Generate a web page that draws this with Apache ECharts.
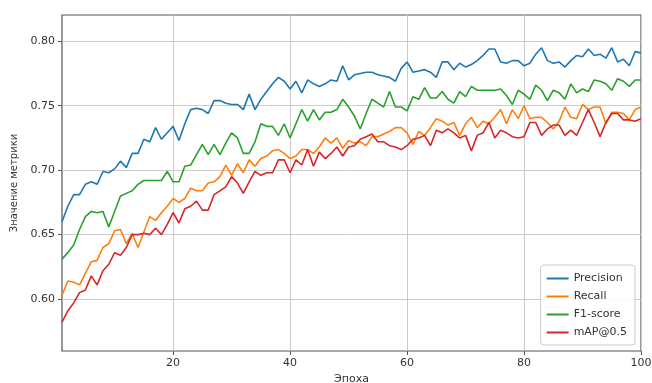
<!DOCTYPE html>
<html>
<head>
<meta charset="utf-8">
<script src="https://cdn.jsdelivr.net/npm/echarts@6/dist/echarts.min.js"></script>
<style>html,body{margin:0;padding:0;background:#fff}#c{width:652px;height:383px}</style>
</head>
<body>
<div id="c"></div>
<script>
const epochs = Array.from({length: 100}, (_, i) => i + 1);
const xTicks = [20, 40, 60, 80, 100];
const yTicks = [0.60, 0.65, 0.70, 0.75, 0.80];
const seriesNames = ['Precision', 'Recall', 'F1-score', 'mAP@0.5'];

const precision = [
0.660,0.672,0.681,0.681,0.689,0.691,0.689,0.699,0.698,0.701,
0.707,0.702,0.713,0.713,0.724,0.722,0.733,0.724,0.729,0.734,
0.723,0.736,0.747,0.748,0.747,0.744,0.754,0.754,0.752,0.751,
0.751,0.747,0.759,0.747,0.755,0.761,0.767,0.772,0.769,0.763,
0.769,0.760,0.770,0.767,0.765,0.767,0.770,0.769,0.781,0.770,
0.774,0.775,0.776,0.776,0.774,0.773,0.772,0.769,0.779,0.784,
0.776,0.777,0.778,0.776,0.772,0.784,0.784,0.778,0.783,0.780,
0.782,0.785,0.789,0.794,0.794,0.784,0.783,0.785,0.785,0.781,
0.783,0.790,0.795,0.785,0.783,0.784,0.780,0.785,0.789,0.788,
0.794,0.789,0.790,0.787,0.795,0.784,0.786,0.781,0.792,0.791];

const recall = [
0.603,0.614,0.613,0.611,0.620,0.629,0.630,0.640,0.643,0.653,
0.654,0.643,0.651,0.640,0.652,0.664,0.661,0.667,0.672,0.678,
0.675,0.678,0.686,0.684,0.684,0.690,0.691,0.695,0.704,0.696,
0.705,0.698,0.708,0.703,0.709,0.711,0.715,0.716,0.713,0.709,
0.711,0.716,0.716,0.713,0.718,0.725,0.721,0.725,0.717,0.723,
0.721,0.722,0.719,0.726,0.726,0.728,0.730,0.733,0.733,0.729,
0.720,0.730,0.727,0.733,0.740,0.738,0.735,0.737,0.727,0.736,
0.741,0.733,0.738,0.736,0.741,0.747,0.736,0.747,0.740,0.750,
0.740,0.741,0.741,0.737,0.732,0.738,0.749,0.741,0.740,0.751,
0.747,0.749,0.749,0.736,0.745,0.745,0.744,0.739,0.747,0.749];

const f1score = [
0.631,0.636,0.642,0.654,0.664,0.668,0.667,0.668,0.656,0.668,
0.680,0.682,0.684,0.689,0.692,0.692,0.692,0.692,0.699,0.691,
0.691,0.703,0.704,0.712,0.720,0.712,0.720,0.712,0.721,0.729,
0.725,0.713,0.713,0.722,0.736,0.734,0.734,0.727,0.736,0.725,
0.736,0.747,0.738,0.747,0.739,0.745,0.745,0.747,0.755,0.749,
0.742,0.732,0.744,0.755,0.752,0.749,0.761,0.749,0.749,0.746,
0.757,0.755,0.764,0.756,0.756,0.761,0.755,0.752,0.761,0.757,
0.765,0.762,0.762,0.762,0.762,0.763,0.758,0.751,0.762,0.759,
0.755,0.766,0.762,0.754,0.762,0.760,0.755,0.767,0.760,0.763,
0.761,0.770,0.769,0.767,0.762,0.771,0.769,0.765,0.770,0.770];

const map50 = [
0.582,0.591,0.597,0.605,0.607,0.618,0.611,0.622,0.627,0.636,
0.634,0.640,0.650,0.650,0.651,0.650,0.655,0.650,0.658,0.667,
0.659,0.670,0.672,0.676,0.669,0.669,0.681,0.684,0.687,0.695,
0.690,0.682,0.691,0.699,0.696,0.698,0.698,0.708,0.708,0.698,
0.708,0.704,0.716,0.703,0.714,0.709,0.713,0.718,0.711,0.718,
0.719,0.724,0.726,0.728,0.722,0.722,0.719,0.718,0.716,0.719,
0.724,0.725,0.727,0.719,0.731,0.729,0.732,0.729,0.725,0.727,
0.715,0.727,0.729,0.737,0.725,0.731,0.729,0.726,0.725,0.726,
0.737,0.737,0.727,0.732,0.735,0.735,0.727,0.731,0.727,0.737,
0.747,0.737,0.726,0.737,0.744,0.744,0.739,0.739,0.738,0.740];

const colors = ['#1f77b4', '#ff7f0e', '#2ca02c', '#d62728'];
const values = [precision, recall, f1score, map50];

const chart = echarts.init(document.getElementById('c'), null, {renderer: 'canvas'});
const FONT = 'DejaVu Sans';
chart.setOption({
  animation: false,
  backgroundColor: '#fff',
  grid: {left: 62, right: 11, top: 15, bottom: 32, show: true, borderColor: '#555', borderWidth: 1.2, backgroundColor: 'transparent', outerBoundsMode: 'none', containLabel: false},
  legend: {
    data: seriesNames,
    orient: 'vertical',
    right: 17,
    bottom: 38,
    icon: 'rect',
    itemWidth: 22,
    itemHeight: 2,
    itemGap: 5,
    padding: [7, 8, 6, 6],
    backgroundColor: 'rgba(255,255,255,0.85)',
    borderColor: '#ccc',
    borderWidth: 1,
    borderRadius: 3,
    textStyle: {fontFamily: FONT, fontSize: 11, color: '#333', lineHeight: 13}
  },
  xAxis: {
    type: 'value',
    min: 1,
    max: 100,
    name: 'Эпоха',
    nameLocation: 'middle',
    nameGap: 22,
    nameTextStyle: {fontFamily: FONT, fontSize: 11, color: '#333'},
    axisLine: {show: false},
    axisTick: {show: true, length: 4, lineStyle: {color: '#555'}, customValues: xTicks},
    axisLabel: {fontFamily: FONT, fontSize: 11, color: '#333', margin: 7, customValues: xTicks},
    splitLine: {show: true, lineStyle: {color: '#cbcbcb', width: 1}}
  },
  yAxis: {
    type: 'value',
    min: 0.5597,
    max: 0.8204,
    name: 'Значение метрики',
    nameLocation: 'middle',
    nameGap: 37,
    nameTextStyle: {fontFamily: FONT, fontSize: 10, color: '#333'},
    axisLine: {show: false},
    axisTick: {show: true, length: 4, lineStyle: {color: '#555'}, customValues: yTicks},
    axisLabel: {fontFamily: FONT, fontSize: 11, color: '#333', margin: 7, customValues: yTicks, formatter: v => v.toFixed(2)},
    splitLine: {show: true, lineStyle: {color: '#cbcbcb', width: 1}}
  },
  series: seriesNames.map((n, k) => ({
    name: n,
    type: 'line',
    data: epochs.map((e, i) => [e, values[k][i]]),
    showSymbol: false,
    symbol: 'none',
    color: colors[k],
    lineStyle: {width: 1.6, color: colors[k]}
  }))
});
</script>
</body>
</html>
